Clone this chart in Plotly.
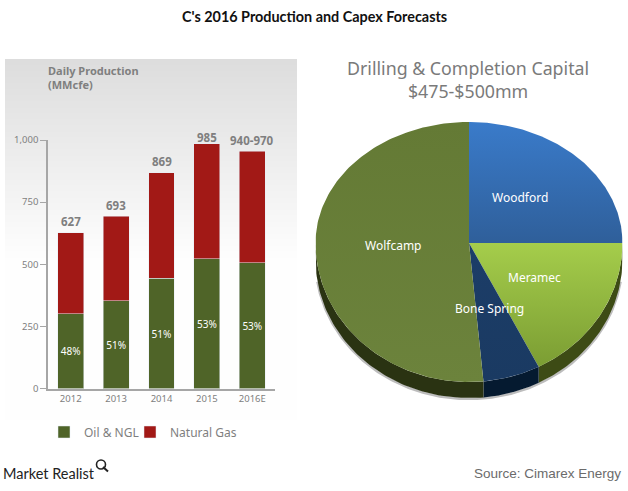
import numpy as np
import plotly.graph_objects as go

W, H = 628, 491

# ---- data ----
years = ["2012", "2013", "2014", "2015", "2016E"]
oil_ngl = [301, 353, 443, 522, 507]
natural_gas = [326, 340, 426, 463, 448]
oil_pct = ["48%", "51%", "51%", "53%", "53%"]
total_labels = ["627", "693", "869", "985", "940-970"]
y_ticks = [0, 250, 500, 750, 1000]

basins = ["Woodford", "Meramec", "Bone Spring", "Wolfcamp"]
capital_share = [25, 17.5, 6, 51.5]

# ---- palette ----
GREEN = "#4f6428"
RED = "#a21916"
GREY = "#7f7f7f"
face_grad = {
    "Woodford": ["#3a7bca", "#2f5f9a"],
    "Meramec": ["#a5cd4b", "#7b9d33"],
    "Bone Spring": ["#1c3d68", "#1a3a62"],
    "Wolfcamp": ["#647a35", "#6c833c"],
}
side_col = {"Woodford": "#1e3c60", "Meramec": "#3d4b15", "Bone Spring": "#051a30", "Wolfcamp": "#2a3312"}


def fx(px):
    return px / W


def fy(py):
    return 1 - py / H


fig = go.Figure()

# ---- stacked bars ----
fig.add_bar(x=years, y=oil_ngl, name="Oil & NGL", marker_color=GREEN, text=oil_pct,
            textposition="inside", insidetextanchor="middle", textangle=0,
            textfont=dict(color="white", size=11, family="Noto Sans"),
            cliponaxis=False, hoverinfo="skip", legend="legend")
fig.add_bar(x=years, y=natural_gas, name="Natural Gas", marker_color=RED, cliponaxis=False, hoverinfo="skip",
            legend="legend2")

# ---- tilted pie, drawn on its own hidden axes ----
TOP_R, BOTTOM_R = 1.0, 139 / 121
DEPTH = 16 / 121


def project(theta):
    c = np.cos(theta)
    return np.sin(theta), np.where(c >= 0, TOP_R * c, BOTTOM_R * c)


edges = np.cumsum([0] + capital_share) / sum(capital_share) * 2 * np.pi

# soft shadow under the rim
t = np.linspace(np.pi * 0.55, np.pi * 1.45, 200)
x, y = project(t)
fig.add_scatter(x=x, y=y - DEPTH - 0.008, xaxis="x2", yaxis="y2", mode="lines",
                line=dict(width=2.5, color="#bdbdbd"), showlegend=False, hoverinfo="skip")

# rim (only the part of the pie that faces the viewer)
for name, a, b in zip(basins, edges[:-1], edges[1:]):
    a2, b2 = max(a, np.pi / 2), min(b, 3 * np.pi / 2)
    if b2 <= a2:
        continue
    t = np.linspace(a2, b2, 80)
    x, y = project(t)
    rx = np.concatenate([x, x[::-1]])
    ry = np.concatenate([y, (y - DEPTH)[::-1]])
    fig.add_scatter(x=rx, y=ry, xaxis="x2", yaxis="y2", mode="lines", fill="toself",
                    line=dict(width=0, color=side_col[name]), fillcolor=side_col[name],
                    showlegend=False, hoverinfo="skip")

# faces
for name, a, b in zip(basins, edges[:-1], edges[1:]):
    t = np.linspace(a, b, 160)
    x, y = project(t)
    fx_pts = np.concatenate([[0], x, [0]])
    fy_pts = np.concatenate([[0], y, [0]])
    top, bot = face_grad[name]
    fig.add_scatter(x=fx_pts, y=fy_pts, xaxis="x2", yaxis="y2", mode="lines", fill="toself",
                    line=dict(width=0, color=top),
                    fillgradient=dict(type="vertical", colorscale=[[0, bot], [1, top]]),
                    showlegend=False, hoverinfo="skip", name=name)

# ---- backdrop gradient behind the bar panel ----
shapes = []
n = 60
for i in range(n):
    y0 = 59 + (420 - 59) * i / n
    f = min(1, i / (n * 0.55))
    v = int(round(221 + (254 - 221) * f))
    # each band runs to the bottom of the panel, so no seams show between bands
    shapes.append(dict(type="rect", xref="paper", yref="paper", x0=fx(5), x1=fx(297), y0=fy(y0), y1=fy(420),
                       fillcolor=f"rgb({v},{v},{v})", line_width=0, layer="below"))

# magnifier of the logo
shapes.append(dict(type="circle", xref="paper", yref="paper", x0=fx(96.5), x1=fx(105.5), y0=fy(469), y1=fy(460),
                   line=dict(color="#222222", width=1.6), layer="above"))
shapes.append(dict(type="line", xref="paper", yref="paper", x0=fx(103), x1=fx(108), y0=fy(467), y1=fy(471.5),
                   line=dict(color="#222222", width=2), layer="above"))

ann = []


def note(px, py, text, size, color, family="Noto Sans", align="center", anchor="center"):
    ann.append(dict(xref="paper", yref="paper", x=fx(px), y=fy(py), text=text, showarrow=False, align=align,
                    xanchor=anchor, yanchor="middle", font=dict(size=size, color=color, family=family)))


note(314, 17, "<b>C's 2016 Production and Capex Forecasts</b>", 14.4, "#111111", "Lato")
note(45.5, 77.5, "<b>Daily Production<br>(MMcfe)</b>", 11, GREY, anchor="left", align="left")
note(468, 79, "Drilling &amp; Completion Capital<br>$475-$500mm", 17.8, "#7a7a7a")
note(520, 197, basins[0], 12, "white")
note(534, 277, basins[1], 12, "white")
note(489, 308, basins[2], 12, "white")
note(393, 245, basins[3], 12, "white")
note(1, 473, "Market Realist", 14.5, "#222222", "Lato", anchor="left")
note(623, 473, "Source: Cimarex Energy", 13.5, "#6b6b6b", "Liberation Sans", anchor="right")

# total labels above the bars
totals = [a + b for a, b in zip(oil_ngl, natural_gas)]
shifts = [11, 11, 11, 6, 11]
for i, (tot, lab, sh) in enumerate(zip(totals, total_labels, shifts)):
    ann.append(dict(xref="x", yref="y", x=i, y=tot, text=f"<b>{lab}</b>", showarrow=False, yshift=sh,
                    yanchor="middle", font=dict(size=11.5, color=GREY, family="Noto Sans")))

legend_style = dict(orientation="h", xref="paper", yref="paper", y=fy(432), yanchor="middle", xanchor="left",
                    font=dict(size=12, color=GREY, family="Noto Sans"), bgcolor="rgba(0,0,0,0)", itemwidth=30)

fig.update_layout(
    width=W, height=H, autosize=False,
    margin=dict(l=0, r=0, t=0, b=0),
    paper_bgcolor="white", plot_bgcolor="rgba(0,0,0,0)",
    barmode="stack", bargap=0.43,
    shapes=shapes, annotations=ann,
    showlegend=True,
    legend=dict(x=fx(44), **legend_style),
    legend2=dict(x=fx(130), **legend_style),
    xaxis=dict(domain=[fx(48), fx(275)], type="category", range=[-0.5, 4.5], showgrid=False, showline=True,
               linecolor="#a6a6a6", linewidth=1.5, ticks="", tickfont=dict(size=9.5, color=GREY, family="Noto Sans"),
               anchor="y", zeroline=False, automargin=False),
    yaxis=dict(domain=[fy(388.5), fy(140)], range=[0, 1000], tickvals=y_ticks, tickformat=",", showgrid=False,
               showline=True, linecolor="#a6a6a6", linewidth=1.5, ticks="outside", ticklen=6, tickcolor="#a6a6a6",
               tickfont=dict(size=9.5, color=GREY, family="Noto Sans"), anchor="x", zeroline=False, automargin=False),
    xaxis2=dict(domain=[fx(315.5), fx(622.5)], range=[-1, 1], visible=False, anchor="y2", fixedrange=True),
    yaxis2=dict(domain=[fy(400), fy(122)], range=[-(400 - 243) / 121, 1], visible=False, anchor="x2", fixedrange=True),
)

fig.write_html("out.html", post_script="document.body.style.margin='0';", config={"displayModeBar": False})
